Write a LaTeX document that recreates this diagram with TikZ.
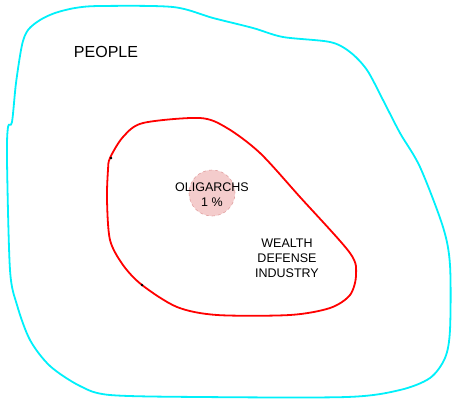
\documentclass[tikz,border=0pt]{standalone}
\usepackage{fontspec}
\setmainfont{Liberation Sans}
\usepackage{xcolor}
\usetikzlibrary{calc,positioning}
\definecolor{peoplecyan}{RGB}{0,240,250}
\definecolor{oligpink}{RGB}{244,204,204}
\definecolor{oligedge}{RGB}{225,160,160}

\begin{document}
\begin{tikzpicture}[x=1pt,y=-1pt]
\useasboundingbox (0,0) rectangle (459,405);
% people
\draw[peoplecyan, line width=1.8pt] plot[smooth cycle, tension=0.5] coordinates {(22,45) (28,30) (40,20) (55,13) (75,8) (100,6) (173,7) (213,18) (253,28) (283,37) (330,42) (350,52) (367,70) (383,100) (400,133) (420,167) (443,227) (450,265) (450,330) (445,358) (430,378) (400,390) (347,397) (200,397) (110,395) (80,386) (50,366) (30,340) (17,305) (10,270) (7,160) (8,127) (12,122) (16,83)};
% wealth defense industry
\draw[red, line width=1.8pt] plot[smooth cycle, tension=0.5] coordinates {(110,158) (123,137) (143,123) (200,118) (227,128) (260,153) (300,197) (350,253) (356,275) (350,295) (330,308) (290,315) (217,315) (177,307) (142,285) (123,265) (110,240) (107,200) (108,170)};
\draw[fill] (111,158) circle (1);
\draw[fill] (142,285) circle (1);
% oligarchs
\node[circle, minimum size=46, fill=oligpink, draw=oligedge, dashed, line width=0.6pt] (oligcircle) at (212,193) {};
\node[align=center, font=\fontsize{12.5}{15}\selectfont] (olig) at (212,195) {OLIGARCHS\\1 \%};
\node[align=center, font=\fontsize{12.5}{15}\selectfont] (wdi) at (287,258) {WEALTH\\DEFENSE\\INDUSTRY};
\node[font=\fontsize{16}{19}\selectfont] (people) at (106,52) {PEOPLE};
\end{tikzpicture}
\end{document}
